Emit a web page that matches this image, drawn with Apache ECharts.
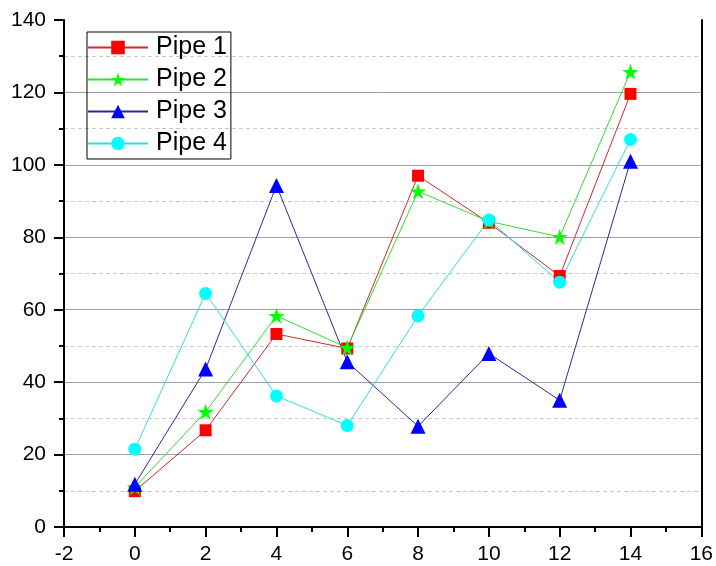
<!DOCTYPE html>
<html>
<head>
<meta charset="utf-8">
<script src="https://cdn.jsdelivr.net/npm/echarts@6/dist/echarts.min.js"></script>
<style>
  html, body { margin: 0; padding: 0; background: #fff; }
  #chart { width: 716px; height: 566px; }
</style>
</head>
<body>
<div id="chart"></div>
<script>
const xValues = [0, 2, 4, 6, 8, 10, 12, 14]
const pipe1 = [9.9, 26.7, 53.3, 49.3, 97, 84, 69.3, 119.6]
const pipe2 = [11, 31.8, 58.3, 49.5, 92.7, 84.4, 80.1, 125.7]
const pipe3 = [11.8, 43.6, 94.3, 45.6, 27.8, 47.9, 35, 101]
const pipe4 = [21.5, 64.5, 36.2, 28, 58.3, 84.8, 67.6, 107]

const font = 'Liberation Sans'
// 五角星
const star = 'path://M50,0 L61.8,35.1 L98.9,35.1 L68.9,57 L80.2,92.2 L50,70.5 L19.8,92.2 L31.1,57 L1.1,35.1 L38.2,35.1 Z'

function pairs(ys) {
  return xValues.map((x, i) => [x, ys[i]])
}

function makeSeries(name, ys, lineColor, markColor, symbol, size) {
  return {
    name: name,
    type: 'line',
    data: pairs(ys),
    symbol: symbol,
    symbolSize: size,
    showAllSymbol: true,
    lineStyle: { color: lineColor, width: 1 },
    itemStyle: { color: markColor },
    emphasis: { disabled: true },
    z: 3
  }
}

const chart = echarts.init(document.getElementById('chart'))
chart.setOption({
  animation: false,
  backgroundColor: '#fff',
  grid: { left: 64, right: 13, top: 20, bottom: 39 },
  legend: {
    orient: 'vertical',
    left: 87,
    top: 32,
    padding: [3, 4, 3, 0],
    itemWidth: 60,
    itemHeight: 17,
    itemGap: 7,
    borderColor: '#000',
    borderWidth: 1,
    textStyle: { fontFamily: font, fontSize: 25, color: '#000', lineHeight: 24, padding: [0, 0, 0, 3] },
    data: ['Pipe 1', 'Pipe 2', 'Pipe 3', 'Pipe 4']
  },
  xAxis: {
    type: 'value',
    min: -2,
    max: 16,
    interval: 2,
    axisLine: { onZero: false, lineStyle: { color: '#000', width: 2 } },
    axisTick: { length: 10, lineStyle: { color: '#000', width: 2 } },
    minorTick: { show: true, splitNumber: 2, length: 5, lineStyle: { color: '#000', width: 2 } },
    axisLabel: { fontFamily: font, fontSize: 21, color: '#000', margin: 17 },
    splitLine: { show: false }
  },
  yAxis: [
    {
      type: 'value',
      min: 0,
      max: 140,
      interval: 20,
      axisLine: { show: true, onZero: false, lineStyle: { color: '#000', width: 2 } },
      axisTick: { show: true, length: 10, lineStyle: { color: '#000', width: 2 } },
      minorTick: { show: true, splitNumber: 2, length: 5, lineStyle: { color: '#000', width: 2 } },
      axisLabel: { fontFamily: font, fontSize: 21, color: '#000', margin: 18 },
      splitLine: { show: true, showMaxLine: false, lineStyle: { color: '#a0a0a0', width: 1 } },
      minorSplitLine: { show: true, lineStyle: { color: '#c8c8c8', width: 1, type: [4, 3] } }
    },
    {
      type: 'value',
      position: 'right',
      min: 0,
      max: 140,
      interval: 20,
      axisLine: { show: true, onZero: false, lineStyle: { color: '#000', width: 2 } },
      axisTick: { show: false },
      axisLabel: { show: false },
      splitLine: { show: false }
    }
  ],
  series: [
    makeSeries('Pipe 1', pipe1, '#cc2a2a', '#ff0000', 'rect', 12),
    makeSeries('Pipe 2', pipe2, '#33dd33', '#00ff00', star, 16),
    makeSeries('Pipe 3', pipe3, '#2a2a99', '#0000ff', 'triangle', 15),
    makeSeries('Pipe 4', pipe4, '#33dddd', '#00ffff', 'circle', 13)
  ]
})
</script>
</body>
</html>
